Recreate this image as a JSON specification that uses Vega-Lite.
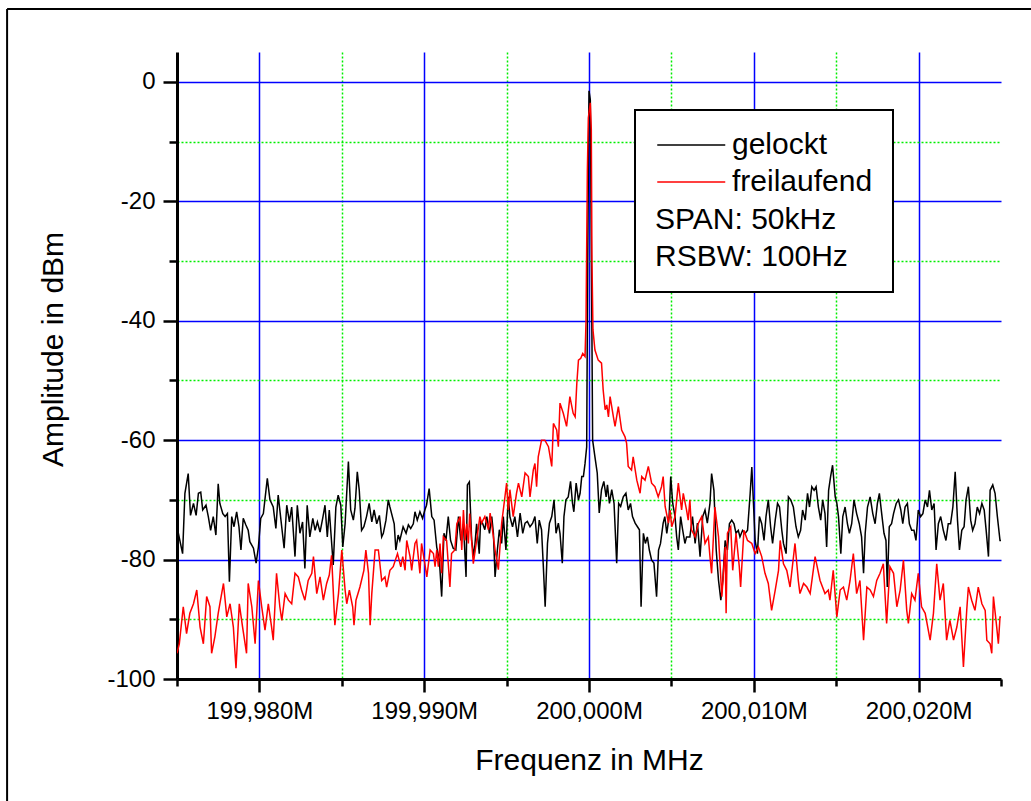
{
"$schema": "https://vega.github.io/schema/vega-lite/v6.json",
"width": 824,
"height": 627,
"autosize": "none",
"padding": {"left": 177, "top": 52, "right": 30, "bottom": 122},
"background": "white",
"config": {"view": {"stroke": null}, "font": "Liberation Sans"},
"datasets": {
"gelockt": [
{"f":199.975,"a":-74.5},{"f":199.97534,"a":-79.0},{"f":199.97548,"a":-68.9},{"f":199.97568,"a":-65.6},{"f":199.97582,"a":-72.6},{"f":199.976,"a":-70.6},{"f":199.97616,"a":-72.6},{"f":199.9763,"a":-68.9},{"f":199.97644,"a":-68.7},{"f":199.97656,"a":-71.7},{"f":199.97676,"a":-70.9},{"f":199.9769,"a":-72.8},{"f":199.97704,"a":-75.1},{"f":199.9772,"a":-72.8},{"f":199.97736,"a":-75.9},{"f":199.9775,"a":-67.3},{"f":199.9776,"a":-70.6},{"f":199.97778,"a":-72.3},{"f":199.97792,"a":-72.8},{"f":199.97806,"a":-72.3},{"f":199.97818,"a":-83.7},{"f":199.97832,"a":-72.8},{"f":199.97846,"a":-74.5},{"f":199.97862,"a":-72.0},{"f":199.97876,"a":-74.5},{"f":199.97888,"a":-78.4},{"f":199.97902,"a":-73.1},{"f":199.97918,"a":-74.2},{"f":199.97932,"a":-75.1},{"f":199.97942,"a":-77.0},{"f":199.97964,"a":-78.1},{"f":199.9798,"a":-80.6},{"f":199.97994,"a":-77.9},{"f":199.98008,"a":-73.1},{"f":199.98024,"a":-72.3},{"f":199.98048,"a":-66.4},{"f":199.98064,"a":-70.0},{"f":199.98084,"a":-71.2},{"f":199.981,"a":-74.8},{"f":199.98114,"a":-69.2},{"f":199.98132,"a":-73.7},{"f":199.9815,"a":-78.1},{"f":199.98166,"a":-70.9},{"f":199.98182,"a":-73.7},{"f":199.98196,"a":-71.2},{"f":199.98216,"a":-79.5},{"f":199.9823,"a":-70.9},{"f":199.98246,"a":-75.6},{"f":199.98262,"a":-73.7},{"f":199.98276,"a":-81.5},{"f":199.9829,"a":-70.9},{"f":199.98306,"a":-76.2},{"f":199.98324,"a":-73.1},{"f":199.98338,"a":-75.1},{"f":199.98352,"a":-73.7},{"f":199.98368,"a":-75.4},{"f":199.98384,"a":-73.1},{"f":199.98398,"a":-70.9},{"f":199.98412,"a":-76.2},{"f":199.98424,"a":-71.7},{"f":199.98448,"a":-80.9},{"f":199.98464,"a":-71.2},{"f":199.98478,"a":-69.2},{"f":199.98494,"a":-70.9},{"f":199.98506,"a":-77.9},{"f":199.9852,"a":-74.0},{"f":199.9854,"a":-63.6},{"f":199.98554,"a":-71.7},{"f":199.9857,"a":-73.4},{"f":199.9858,"a":-71.4},{"f":199.98594,"a":-65.3},{"f":199.98606,"a":-68.4},{"f":199.9862,"a":-75.1},{"f":199.98634,"a":-74.5},{"f":199.9865,"a":-72.8},{"f":199.98666,"a":-70.6},{"f":199.98682,"a":-73.7},{"f":199.98696,"a":-71.7},{"f":199.98712,"a":-74.0},{"f":199.98728,"a":-72.6},{"f":199.98742,"a":-76.2},{"f":199.98752,"a":-75.6},{"f":199.98768,"a":-73.4},{"f":199.98782,"a":-70.0},{"f":199.98792,"a":-71.2},{"f":199.98818,"a":-74.0},{"f":199.98828,"a":-78.4},{"f":199.98842,"a":-75.9},{"f":199.98852,"a":-76.8},{"f":199.98872,"a":-74.5},{"f":199.9889,"a":-75.6},{"f":199.98904,"a":-74.2},{"f":199.98918,"a":-74.8},{"f":199.98934,"a":-74.0},{"f":199.98944,"a":-72.0},{"f":199.98958,"a":-73.4},{"f":199.98974,"a":-72.0},{"f":199.9899,"a":-73.1},{"f":199.99004,"a":-71.7},{"f":199.99014,"a":-70.9},{"f":199.9903,"a":-68.1},{"f":199.99046,"a":-72.8},{"f":199.9906,"a":-73.4},{"f":199.99076,"a":-77.9},{"f":199.99092,"a":-80.1},{"f":199.99106,"a":-86.2},{"f":199.9912,"a":-75.6},{"f":199.99132,"a":-76.8},{"f":199.99146,"a":-72.8},{"f":199.9916,"a":-76.8},{"f":199.99176,"a":-78.1},{"f":199.99192,"a":-78.4},{"f":199.99208,"a":-72.8},{"f":199.99222,"a":-76.8},{"f":199.99238,"a":-74.0},{"f":199.99254,"a":-82.9},{"f":199.99262,"a":-67.5},{"f":199.99274,"a":-67.0},{"f":199.99288,"a":-76.8},{"f":199.99302,"a":-79.5},{"f":199.99318,"a":-74.0},{"f":199.99334,"a":-79.0},{"f":199.99342,"a":-73.6},{"f":199.99354,"a":-73.9},{"f":199.99368,"a":-75.0},{"f":199.9938,"a":-72.8},{"f":199.99396,"a":-75.6},{"f":199.9941,"a":-72.8},{"f":199.9942,"a":-75.6},{"f":199.9943,"a":-82.9},{"f":199.99444,"a":-78.4},{"f":199.99456,"a":-75.0},{"f":199.9947,"a":-77.3},{"f":199.9948,"a":-72.8},{"f":199.99496,"a":-78.4},{"f":199.9951,"a":-69.5},{"f":199.9952,"a":-72.8},{"f":199.99536,"a":-74.5},{"f":199.9955,"a":-72.8},{"f":199.99566,"a":-76.2},{"f":199.99582,"a":-72.2},{"f":199.99598,"a":-75.6},{"f":199.99612,"a":-73.9},{"f":199.99626,"a":-73.6},{"f":199.99642,"a":-74.5},{"f":199.99658,"a":-73.9},{"f":199.99672,"a":-72.8},{"f":199.99686,"a":-77.3},{"f":199.99698,"a":-73.4},{"f":199.99712,"a":-75.0},{"f":199.99722,"a":-80.6},{"f":199.99734,"a":-87.9},{"f":199.99748,"a":-77.3},{"f":199.9976,"a":-73.9},{"f":199.99774,"a":-72.8},{"f":199.99788,"a":-70.0},{"f":199.998,"a":-75.6},{"f":199.99814,"a":-73.9},{"f":199.99824,"a":-75.6},{"f":199.99838,"a":-80.6},{"f":199.99848,"a":-72.8},{"f":199.9986,"a":-70.0},{"f":199.99874,"a":-69.5},{"f":199.99888,"a":-66.9},{"f":199.999,"a":-70.6},{"f":199.99908,"a":-72.0},{"f":199.99922,"a":-67.2},{"f":199.99936,"a":-70.0},{"f":199.99946,"a":-68.9},{"f":199.99956,"a":-66.1},{"f":199.99966,"a":-66.1},{"f":199.99976,"a":-63.9},{"f":199.99986,"a":-61.1},{"f":199.99992,"a":-30.0},{"f":200.0,"a":-1.5},{"f":200.00008,"a":-3.0},{"f":200.00016,"a":-35.0},{"f":200.00022,"a":-60.0},{"f":200.00036,"a":-62.8},{"f":200.0005,"a":-65.5},{"f":200.00062,"a":-72.2},{"f":200.00076,"a":-68.3},{"f":200.0009,"a":-66.9},{"f":200.00104,"a":-69.5},{"f":200.00112,"a":-67.5},{"f":200.00124,"a":-70.6},{"f":200.00138,"a":-68.3},{"f":200.00152,"a":-70.6},{"f":200.00168,"a":-80.6},{"f":200.0018,"a":-70.6},{"f":200.00192,"a":-71.1},{"f":200.00208,"a":-69.5},{"f":200.00224,"a":-68.9},{"f":200.00238,"a":-71.7},{"f":200.00252,"a":-70.6},{"f":200.00264,"a":-72.8},{"f":200.0028,"a":-73.9},{"f":200.00294,"a":-74.5},{"f":200.00306,"a":-75.0},{"f":200.00316,"a":-87.9},{"f":200.0033,"a":-75.6},{"f":200.00342,"a":-77.3},{"f":200.00354,"a":-76.2},{"f":200.00366,"a":-78.4},{"f":200.0038,"a":-80.1},{"f":200.00394,"a":-80.6},{"f":200.0041,"a":-86.2},{"f":200.00422,"a":-78.4},{"f":200.00434,"a":-77.3},{"f":200.0045,"a":-73.9},{"f":200.0046,"a":-72.8},{"f":200.00472,"a":-75.6},{"f":200.00486,"a":-72.8},{"f":200.00496,"a":-66.1},{"f":200.00508,"a":-70.6},{"f":200.00522,"a":-72.8},{"f":200.00532,"a":-76.2},{"f":200.00542,"a":-78.4},{"f":200.00556,"a":-72.8},{"f":200.00568,"a":-75.0},{"f":200.00582,"a":-77.3},{"f":200.00592,"a":-76.2},{"f":200.00612,"a":-76.2},{"f":200.00628,"a":-72.8},{"f":200.00644,"a":-77.3},{"f":200.00658,"a":-73.9},{"f":200.00674,"a":-79.5},{"f":200.0069,"a":-72.8},{"f":200.00704,"a":-71.7},{"f":200.00718,"a":-73.9},{"f":200.00734,"a":-70.6},{"f":200.00744,"a":-65.6},{"f":200.00758,"a":-68.4},{"f":200.00772,"a":-78.4},{"f":200.00786,"a":-83.5},{"f":200.008,"a":-86.8},{"f":200.00812,"a":-83.5},{"f":200.00826,"a":-76.8},{"f":200.0084,"a":-78.4},{"f":200.00852,"a":-74.0},{"f":200.00866,"a":-73.4},{"f":200.0088,"a":-74.0},{"f":200.00892,"a":-75.6},{"f":200.00906,"a":-75.1},{"f":200.00916,"a":-76.2},{"f":200.00932,"a":-75.1},{"f":200.00948,"a":-75.6},{"f":200.00962,"a":-75.1},{"f":200.00978,"a":-68.9},{"f":200.00988,"a":-64.5},{"f":200.00998,"a":-70.6},{"f":200.01008,"a":-76.8},{"f":200.01022,"a":-79.0},{"f":200.01034,"a":-72.8},{"f":200.01048,"a":-74.0},{"f":200.01062,"a":-76.8},{"f":200.01074,"a":-72.8},{"f":200.01088,"a":-70.0},{"f":200.01102,"a":-74.5},{"f":200.01114,"a":-77.3},{"f":200.0113,"a":-73.4},{"f":200.01144,"a":-70.6},{"f":200.01156,"a":-71.2},{"f":200.0117,"a":-75.1},{"f":200.0118,"a":-77.3},{"f":200.01196,"a":-79.0},{"f":200.0121,"a":-69.5},{"f":200.01224,"a":-70.0},{"f":200.0124,"a":-71.2},{"f":200.01256,"a":-74.5},{"f":200.0127,"a":-76.2},{"f":200.01284,"a":-75.1},{"f":200.01296,"a":-71.7},{"f":200.01312,"a":-73.4},{"f":200.01326,"a":-68.9},{"f":200.01338,"a":-71.2},{"f":200.01352,"a":-67.8},{"f":200.01366,"a":-68.4},{"f":200.01378,"a":-67.8},{"f":200.01392,"a":-71.2},{"f":200.01406,"a":-73.4},{"f":200.01418,"a":-70.0},{"f":200.01432,"a":-72.3},{"f":200.01442,"a":-77.9},{"f":200.01454,"a":-68.4},{"f":200.01466,"a":-66.1},{"f":200.01478,"a":-64.2},{"f":200.01494,"a":-69.5},{"f":200.01504,"a":-70.6},{"f":200.01514,"a":-72.8},{"f":200.01528,"a":-79.0},{"f":200.0154,"a":-72.8},{"f":200.01554,"a":-71.2},{"f":200.01568,"a":-74.0},{"f":200.0158,"a":-75.6},{"f":200.01594,"a":-74.0},{"f":200.01608,"a":-70.0},{"f":200.01624,"a":-72.3},{"f":200.0164,"a":-74.0},{"f":200.01654,"a":-76.2},{"f":200.01666,"a":-82.3},{"f":200.01676,"a":-75.6},{"f":200.0169,"a":-71.2},{"f":200.01706,"a":-69.5},{"f":200.01722,"a":-72.3},{"f":200.01736,"a":-74.0},{"f":200.0175,"a":-70.6},{"f":200.01762,"a":-68.9},{"f":200.01776,"a":-72.3},{"f":200.0179,"a":-75.6},{"f":200.01802,"a":-76.8},{"f":200.0181,"a":-84.6},{"f":200.01822,"a":-74.5},{"f":200.01836,"a":-74.0},{"f":200.01848,"a":-72.3},{"f":200.01864,"a":-70.6},{"f":200.01878,"a":-70.0},{"f":200.01892,"a":-71.7},{"f":200.01904,"a":-74.0},{"f":200.01918,"a":-71.2},{"f":200.01932,"a":-70.6},{"f":200.01944,"a":-74.0},{"f":200.01958,"a":-75.1},{"f":200.01972,"a":-75.1},{"f":200.01984,"a":-76.8},{"f":200.01998,"a":-71.7},{"f":200.02012,"a":-72.8},{"f":200.02026,"a":-72.3},{"f":200.0204,"a":-70.0},{"f":200.02054,"a":-71.2},{"f":200.02066,"a":-68.4},{"f":200.0208,"a":-71.7},{"f":200.02094,"a":-70.6},{"f":200.02106,"a":-78.4},{"f":200.0212,"a":-74.0},{"f":200.02134,"a":-72.8},{"f":200.0215,"a":-75.1},{"f":200.02166,"a":-76.8},{"f":200.0218,"a":-74.0},{"f":200.02194,"a":-74.0},{"f":200.02208,"a":-71.2},{"f":200.02222,"a":-65.3},{"f":200.02236,"a":-73.4},{"f":200.02248,"a":-78.4},{"f":200.02262,"a":-75.1},{"f":200.02276,"a":-74.5},{"f":200.02288,"a":-70.0},{"f":200.02302,"a":-67.8},{"f":200.02316,"a":-73.4},{"f":200.02328,"a":-75.1},{"f":200.02342,"a":-74.0},{"f":200.02356,"a":-71.2},{"f":200.0237,"a":-72.3},{"f":200.02384,"a":-70.6},{"f":200.02398,"a":-71.7},{"f":200.0241,"a":-75.1},{"f":200.02424,"a":-79.5},{"f":200.02434,"a":-68.4},{"f":200.0245,"a":-67.5},{"f":200.02464,"a":-68.9},{"f":200.02478,"a":-72.8},{"f":200.02494,"a":-76.8},{"f":200.025,"a":-76.8}
],
"freilaufend": [
{"f":199.975,"a":-95.7},{"f":199.97514,"a":-94.1},{"f":199.97538,"a":-87.9},{"f":199.97558,"a":-92.4},{"f":199.97578,"a":-89.0},{"f":199.976,"a":-87.4},{"f":199.9762,"a":-85.1},{"f":199.9764,"a":-91.3},{"f":199.9766,"a":-94.1},{"f":199.9768,"a":-86.2},{"f":199.977,"a":-87.9},{"f":199.9771,"a":-95.7},{"f":199.9773,"a":-92.9},{"f":199.9775,"a":-89.0},{"f":199.9776,"a":-87.4},{"f":199.97782,"a":-84.0},{"f":199.97802,"a":-89.6},{"f":199.97822,"a":-87.4},{"f":199.97842,"a":-91.3},{"f":199.97858,"a":-98.2},{"f":199.97878,"a":-87.4},{"f":199.97898,"a":-91.3},{"f":199.97922,"a":-95.7},{"f":199.97932,"a":-84.0},{"f":199.97954,"a":-87.9},{"f":199.97974,"a":-94.1},{"f":199.97994,"a":-83.5},{"f":199.98014,"a":-87.9},{"f":199.98034,"a":-91.8},{"f":199.98054,"a":-87.4},{"f":199.98074,"a":-91.3},{"f":199.98084,"a":-93.5},{"f":199.98104,"a":-82.3},{"f":199.98124,"a":-87.9},{"f":199.98136,"a":-90.2},{"f":199.98156,"a":-85.7},{"f":199.98176,"a":-86.8},{"f":199.98196,"a":-87.4},{"f":199.98216,"a":-82.3},{"f":199.98236,"a":-82.9},{"f":199.98256,"a":-85.1},{"f":199.98276,"a":-86.8},{"f":199.98296,"a":-83.5},{"f":199.98318,"a":-82.3},{"f":199.98328,"a":-79.5},{"f":199.98348,"a":-85.7},{"f":199.98368,"a":-82.9},{"f":199.98388,"a":-86.8},{"f":199.98408,"a":-84.0},{"f":199.98424,"a":-82.6},{"f":199.98438,"a":-79.3},{"f":199.98458,"a":-91.0},{"f":199.9848,"a":-85.7},{"f":199.985,"a":-78.4},{"f":199.9852,"a":-85.1},{"f":199.9853,"a":-87.4},{"f":199.98546,"a":-85.1},{"f":199.98566,"a":-87.9},{"f":199.98574,"a":-91.0},{"f":199.98586,"a":-86.8},{"f":199.9861,"a":-84.6},{"f":199.98634,"a":-81.8},{"f":199.98646,"a":-78.4},{"f":199.98662,"a":-82.3},{"f":199.98672,"a":-91.0},{"f":199.98682,"a":-85.7},{"f":199.98702,"a":-78.4},{"f":199.98722,"a":-78.4},{"f":199.98742,"a":-83.5},{"f":199.98762,"a":-82.9},{"f":199.98772,"a":-84.6},{"f":199.98792,"a":-81.8},{"f":199.98812,"a":-81.2},{"f":199.98838,"a":-79.0},{"f":199.98858,"a":-81.2},{"f":199.9887,"a":-79.5},{"f":199.98884,"a":-81.8},{"f":199.98894,"a":-76.8},{"f":199.98914,"a":-79.5},{"f":199.98924,"a":-81.8},{"f":199.98944,"a":-77.3},{"f":199.98954,"a":-76.8},{"f":199.98974,"a":-82.3},{"f":199.98984,"a":-77.3},{"f":199.99004,"a":-80.7},{"f":199.99016,"a":-82.9},{"f":199.99036,"a":-78.4},{"f":199.99056,"a":-79.0},{"f":199.99066,"a":-81.2},{"f":199.99076,"a":-78.4},{"f":199.99086,"a":-81.2},{"f":199.99096,"a":-77.3},{"f":199.99106,"a":-82.3},{"f":199.99116,"a":-76.2},{"f":199.99136,"a":-76.8},{"f":199.99156,"a":-84.6},{"f":199.99166,"a":-79.0},{"f":199.99186,"a":-78.4},{"f":199.99198,"a":-74.0},{"f":199.99218,"a":-72.8},{"f":199.99228,"a":-78.4},{"f":199.99238,"a":-71.7},{"f":199.99248,"a":-76.8},{"f":199.99258,"a":-74.0},{"f":199.99268,"a":-77.3},{"f":199.99276,"a":-72.3},{"f":199.99298,"a":-80.7},{"f":199.99318,"a":-76.8},{"f":199.99338,"a":-72.8},{"f":199.99348,"a":-73.9},{"f":199.99368,"a":-72.8},{"f":199.9939,"a":-75.0},{"f":199.994,"a":-72.2},{"f":199.9942,"a":-76.2},{"f":199.9943,"a":-78.4},{"f":199.9945,"a":-81.7},{"f":199.9947,"a":-73.9},{"f":199.9948,"a":-71.7},{"f":199.995,"a":-67.2},{"f":199.9951,"a":-71.7},{"f":199.9952,"a":-68.3},{"f":199.9954,"a":-72.8},{"f":199.9956,"a":-68.9},{"f":199.99572,"a":-67.2},{"f":199.99592,"a":-69.5},{"f":199.99612,"a":-65.5},{"f":199.99632,"a":-66.1},{"f":199.99642,"a":-69.5},{"f":199.99662,"a":-65.0},{"f":199.99672,"a":-63.9},{"f":199.99682,"a":-67.8},{"f":199.99692,"a":-62.8},{"f":199.99712,"a":-60.0},{"f":199.99732,"a":-60.0},{"f":199.99754,"a":-61.1},{"f":199.99774,"a":-64.4},{"f":199.99784,"a":-57.2},{"f":199.99804,"a":-58.3},{"f":199.99814,"a":-61.1},{"f":199.99824,"a":-53.8},{"f":199.99844,"a":-55.5},{"f":199.99864,"a":-57.7},{"f":199.99884,"a":-52.7},{"f":199.99904,"a":-55.5},{"f":199.99916,"a":-56.1},{"f":199.99926,"a":-50.5},{"f":199.99936,"a":-46.6},{"f":199.9995,"a":-46.3},{"f":199.99962,"a":-45.5},{"f":199.99976,"a":-46.0},{"f":199.99982,"a":-40.0},{"f":199.9999,"a":-15.0},{"f":199.99996,"a":-6.0},{"f":200.00008,"a":-3.5},{"f":200.00014,"a":-8.0},{"f":200.00018,"a":-30.0},{"f":200.00024,"a":-41.5},{"f":200.00036,"a":-44.9},{"f":200.00056,"a":-46.6},{"f":200.00076,"a":-47.1},{"f":200.00086,"a":-51.6},{"f":200.00098,"a":-54.9},{"f":200.00108,"a":-54.1},{"f":200.00118,"a":-56.1},{"f":200.00128,"a":-52.7},{"f":200.00148,"a":-56.1},{"f":200.00158,"a":-57.7},{"f":200.00178,"a":-54.4},{"f":200.00198,"a":-58.3},{"f":200.00218,"a":-59.4},{"f":200.00228,"a":-60.5},{"f":200.00238,"a":-64.4},{"f":200.00258,"a":-65.0},{"f":200.00268,"a":-62.8},{"f":200.0029,"a":-66.7},{"f":200.0031,"a":-68.9},{"f":200.0032,"a":-66.1},{"f":200.0034,"a":-66.7},{"f":200.0036,"a":-64.4},{"f":200.0038,"a":-67.2},{"f":200.004,"a":-67.8},{"f":200.0042,"a":-69.5},{"f":200.0044,"a":-67.8},{"f":200.0045,"a":-66.1},{"f":200.00462,"a":-71.1},{"f":200.00482,"a":-73.9},{"f":200.00492,"a":-71.7},{"f":200.00502,"a":-74.5},{"f":200.00522,"a":-72.8},{"f":200.00542,"a":-67.2},{"f":200.00562,"a":-71.7},{"f":200.00572,"a":-68.9},{"f":200.00592,"a":-71.7},{"f":200.00602,"a":-73.4},{"f":200.00612,"a":-70.0},{"f":200.00622,"a":-75.0},{"f":200.00644,"a":-76.2},{"f":200.00664,"a":-73.9},{"f":200.00684,"a":-72.8},{"f":200.00704,"a":-77.3},{"f":200.00724,"a":-76.2},{"f":200.00734,"a":-79.5},{"f":200.00744,"a":-82.3},{"f":200.00764,"a":-71.2},{"f":200.00786,"a":-76.2},{"f":200.00806,"a":-86.2},{"f":200.00826,"a":-77.9},{"f":200.00832,"a":-89.0},{"f":200.0084,"a":-75.6},{"f":200.0086,"a":-74.5},{"f":200.00872,"a":-81.8},{"f":200.00892,"a":-75.6},{"f":200.00912,"a":-81.2},{"f":200.0092,"a":-84.6},{"f":200.0094,"a":-75.1},{"f":200.00962,"a":-76.8},{"f":200.00988,"a":-77.3},{"f":200.01008,"a":-79.0},{"f":200.01028,"a":-77.9},{"f":200.01048,"a":-79.5},{"f":200.01068,"a":-82.3},{"f":200.01088,"a":-84.0},{"f":200.01108,"a":-88.5},{"f":200.0113,"a":-85.1},{"f":200.0115,"a":-81.8},{"f":200.0116,"a":-76.8},{"f":200.0118,"a":-80.7},{"f":200.012,"a":-81.8},{"f":200.0122,"a":-84.6},{"f":200.0125,"a":-77.3},{"f":200.0127,"a":-83.5},{"f":200.0128,"a":-85.7},{"f":200.01302,"a":-84.0},{"f":200.01322,"a":-84.6},{"f":200.01342,"a":-85.7},{"f":200.01372,"a":-79.5},{"f":200.01402,"a":-83.5},{"f":200.01432,"a":-85.7},{"f":200.01452,"a":-85.1},{"f":200.01462,"a":-86.8},{"f":200.01482,"a":-81.8},{"f":200.01504,"a":-89.6},{"f":200.01524,"a":-85.1},{"f":200.01544,"a":-84.6},{"f":200.01564,"a":-86.8},{"f":200.01584,"a":-83.5},{"f":200.01604,"a":-79.0},{"f":200.01624,"a":-85.7},{"f":200.01644,"a":-83.5},{"f":200.01666,"a":-93.5},{"f":200.01686,"a":-84.6},{"f":200.01706,"a":-85.1},{"f":200.01726,"a":-86.2},{"f":200.01746,"a":-83.5},{"f":200.01766,"a":-82.3},{"f":200.01786,"a":-80.7},{"f":200.01806,"a":-90.7},{"f":200.01826,"a":-81.2},{"f":200.01848,"a":-82.3},{"f":200.01868,"a":-87.9},{"f":200.01888,"a":-85.1},{"f":200.01908,"a":-80.1},{"f":200.01928,"a":-88.5},{"f":200.01938,"a":-90.7},{"f":200.01958,"a":-85.7},{"f":200.01978,"a":-86.8},{"f":200.01998,"a":-82.3},{"f":200.02018,"a":-87.9},{"f":200.0204,"a":-89.0},{"f":200.0207,"a":-93.5},{"f":200.0209,"a":-89.0},{"f":200.0211,"a":-80.7},{"f":200.0213,"a":-86.8},{"f":200.0215,"a":-84.0},{"f":200.0217,"a":-93.5},{"f":200.0219,"a":-90.2},{"f":200.02212,"a":-93.5},{"f":200.02232,"a":-91.3},{"f":200.02252,"a":-87.9},{"f":200.02272,"a":-98.0},{"f":200.02292,"a":-88.5},{"f":200.02302,"a":-84.6},{"f":200.02322,"a":-86.8},{"f":200.02342,"a":-88.5},{"f":200.02362,"a":-84.6},{"f":200.02384,"a":-87.4},{"f":200.02404,"a":-88.5},{"f":200.02414,"a":-93.5},{"f":200.02434,"a":-94.1},{"f":200.02444,"a":-95.7},{"f":200.02454,"a":-86.2},{"f":200.02474,"a":-91.3},{"f":200.02484,"a":-94.1},{"f":200.02494,"a":-89.6},{"f":200.025,"a":-89.6}
]
},
"layer": [
{
"data": {"name": "gelockt"},
"mark": {"type": "line", "strokeWidth": 1.5, "clip": true},
"encoding": {
"x": {"field": "f", "type": "quantitative",
"scale": {"domain": [199.975, 200.025], "nice": false, "zero": false},
"axis": {
"title": "Frequenz in MHz",
"titleFont": "Liberation Sans", "titleFontSize": 30, "titleFontWeight": "normal", "titleColor": "black",
"titleX": 412, "titleY": 90, "titleBaseline": "alphabetic", "titleAlign": "center",
"values": [199.975, 199.98, 199.985, 199.99, 199.995, 200, 200.005, 200.01, 200.015, 200.02, 200.025],
"labelExpr": "round((datum.value-199.975)*200)%2==1 ? replace(format(datum.value,'.3f'),'.',',')+'M' : ''",
"labelFont": "Liberation Sans", "labelFontSize": 24, "labelColor": "black",
"labelOverlap": false, "labelFlush": false, "labelBound": false, "labelPadding": 7,
"domainColor": "black", "domainWidth": 3,
"tickColor": "black", "tickWidth": 2.5,
"tickSize": {"condition": {"test": "round((datum.value-199.975)*200)%2==1", "value": 13}, "value": 7},
"grid": true,
"gridColor": {"condition": {"test": "round((datum.value-199.975)*200)%2==1", "value": "#0000ff"}, "value": "#00ee00"},
"gridDash": {"condition": {"test": "round((datum.value-199.975)*200)%2==1", "value": []}, "value": [2, 2]},
"gridWidth": {"condition": {"test": "round((datum.value-199.975)*200)%2==1", "value": 1.5}, "value": 1.5},
"gridOpacity": {"condition": {"test": "round((datum.value-199.975)*200)%10==0", "value": 0}, "value": 1}
}},
"y": {"field": "a", "type": "quantitative",
"scale": {"domain": [-100, 5], "nice": false, "zero": false},
"axis": {
"title": "Amplitude in dBm",
"titleFont": "Liberation Sans", "titleFontSize": 30, "titleFontWeight": "normal", "titleColor": "black",
"titleX": -115, "titleY": 297, "titleAngle": 270, "titleAlign": "center", "titleBaseline": "alphabetic",
"values": [-100, -90, -80, -70, -60, -50, -40, -30, -20, -10, 0],
"labelExpr": "datum.value % 20 == 0 ? '' + datum.value : ''",
"labelFont": "Liberation Sans", "labelFontSize": 24, "labelColor": "black",
"labelOverlap": false, "labelFlush": false, "labelBound": false, "labelPadding": 8,
"domainColor": "black", "domainWidth": 3,
"tickColor": "black", "tickWidth": 2.5,
"tickSize": {"condition": {"test": "datum.value % 20 == 0", "value": 14}, "value": 8},
"grid": true,
"gridColor": {"condition": {"test": "datum.value % 20 == 0", "value": "#0000ff"}, "value": "#00ee00"},
"gridDash": {"condition": {"test": "datum.value % 20 == 0", "value": []}, "value": [2, 2]},
"gridWidth": {"condition": {"test": "datum.value % 20 == 0", "value": 1.5}, "value": 1.5},
"gridOpacity": {"condition": {"test": "datum.value == -100", "value": 0}, "value": 1}
}},
"color": {"datum": "gelockt", "type": "nominal",
"scale": {"domain": ["gelockt", "freilaufend"], "range": ["#000000", "#ff0000"]},
"legend": {
"orient": "none", "legendX": 458, "legendY": 58,
"strokeColor": "black", "fillColor": "white", "padding": 20,
"symbolType": "M-1.5,0H6.5", "symbolSize": 289, "symbolStrokeWidth": 1.5,
"labelFont": "Liberation Sans", "labelFontSize": 30, "labelColor": "black", "labelOffset": 47,
"rowPadding": 7,
"title": ["SPAN: 50kHz", "RSBW: 100Hz"],
"titleOrient": "bottom", "titleAnchor": "start", "titleAlign": "left", "titleLimit": 500,
"titleFont": "Liberation Sans", "titleFontSize": 30, "titleFontWeight": "normal", "titleColor": "black",
"titleLineHeight": 37, "titlePadding": 8,
"encode": {"legend": {"update": {"strokeWidth": {"value": 2}}}}
}}
}
},
{
"data": {"name": "freilaufend"},
"mark": {"type": "line", "strokeWidth": 1.5, "clip": true},
"encoding": {
"x": {"field": "f", "type": "quantitative"},
"y": {"field": "a", "type": "quantitative"},
"color": {"datum": "freilaufend", "type": "nominal"}
}
},
{
"data": {"values": [{}]},
"mark": {"type": "rule", "color": "black", "strokeWidth": 2, "clip": false},
"encoding": {
"x": {"datum": 199.96469, "type": "quantitative"},
"y": {"datum": 12.2, "type": "quantitative"},
"y2": {"datum": -121}
}
},
{
"data": {"values": [{}]},
"mark": {"type": "rule", "color": "black", "strokeWidth": 2, "clip": false},
"encoding": {
"x": {"datum": 199.96469, "type": "quantitative"},
"x2": {"datum": 200.027},
"y": {"datum": 12.2, "type": "quantitative"}
}
}
]
}
